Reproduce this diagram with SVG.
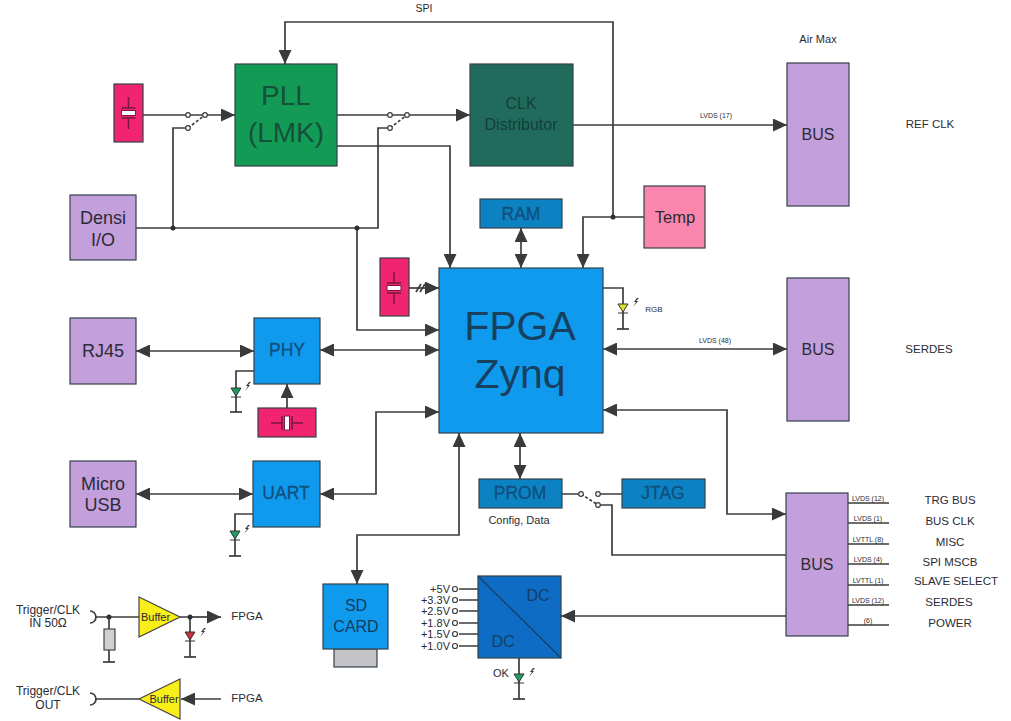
<svg xmlns="http://www.w3.org/2000/svg" width="1011" height="721" viewBox="0 0 1011 721">
<style>
text{font-family:"Liberation Sans",Arial,sans-serif;fill:#2b2b35;text-anchor:middle}
.box{stroke:#33414a;stroke-width:1.2}
.w{fill:none;stroke:#3c3c3c;stroke-width:1.7}
.a{marker-end:url(#ah)}
.d{marker-end:url(#ah);marker-start:url(#ah)}
.sw{fill:#fff;stroke:#3c3c3c;stroke-width:1.2}
.j{fill:#2f2f2f}
.bus{fill:#c39fdc}.pink{fill:#f0246f}.blue{fill:#0f9aee}.teal{fill:#0d82c2}
.bt{fill:#104f7e;font-size:17.5px;stroke:#104f7e;stroke-width:.3}
.s7{font-size:7px}.s10{font-size:11.5px}
.l{font-size:18px}
.led{stroke:#333;stroke-width:1}
.xt{fill:none;stroke:#7a1640;stroke-width:1.5}
.bolt{fill:#333}
</style>
<defs>
<marker id="ah" markerUnits="userSpaceOnUse" markerWidth="15" markerHeight="13" refX="14" refY="6.5" orient="auto-start-reverse"><path d="M0 0L14 6.5L0 13Z" fill="#3a3a3a"/></marker>
<g id="bolt"><path class="bolt" d="M3 -5L0 -1L2 -1L-1 4L4 -2L2 -2L5 -5Z"/></g>
<g id="gnd"><path class="w" d="M-6 0H6"/></g>
<g id="xtalV"><path class="xt" d="M0 -16V-5M-7 -5H7M0 16V5M-7 5H7"/><rect x="-7" y="-2.5" width="14" height="5" fill="#fff" stroke="#7a1640"/></g>
</defs>

<g id="connectors">
<path class="w a" d="M613 217V22H285V64"/>
<path class="w a" d="M644 217H583V268"/>
<path class="w a" d="M143 115H235"/>
<path class="w" d="M136 228H378V128H390M173 228V128H188"/>
<path class="w" stroke-dasharray="3 2" d="M188 128L205 115"/>
<path class="w a" d="M337 115H470"/>
<path class="w" stroke-dasharray="3 2" d="M390 128L407 115"/>
<path class="w a" d="M337 146H450V268"/>
<path class="w a" d="M357 228V330H439"/>
<path class="w a" d="M409 288H439"/>
<path class="w" d="M416 292L421 284M420 292L425 284"/>
<path class="w d" d="M320 350H439"/>
<path class="w d" d="M136 351H254"/>
<path class="w a" d="M287 408V384"/>
<path class="w d" d="M136 494H253"/>
<path class="w d" d="M320 494H376V412H439"/>
<path class="w d" d="M357 584V535H459V433"/>
<path class="w d" d="M521 228V268"/>
<path class="w d" d="M520 433V479"/>
<path class="w d" d="M603 349H787"/>
<path class="w d" d="M603 410H727V514H786"/>
<path class="w a" d="M573 125H787"/>
<path class="w a" d="M786 616H561"/>
<path class="w" d="M562 494H581M598 494H622M598 505H612V555H786"/>
<path class="w" stroke-dasharray="3 2" d="M581 494L598 505"/>
<path class="w" d="M848 503H889M848 523H889M848 544H889M848 564H889M848 585H889M848 605H889M848 625H889"/>
<path class="w" d="M459 589H478M459 600H478M459 611H478M459 623H478M459 634H478M459 646H478"/>
<path class="w" d="M603 288H623V329"/>
<path class="w" d="M254 371H236V412"/>
<path class="w" d="M253 514H235V556"/>
<path class="w" d="M519 658V699"/>
<path class="w" d="M95 617H139M109 617V629M109 650V662M180 617H190"/>
<path class="w a" d="M190 617H221"/>
<path class="w" d="M190 617V657"/>
<path class="w" d="M95 699H139"/>
<path class="w a" d="M221 699H181"/>
<circle class="sw" cx="188" cy="115" r="2.3"/><circle class="sw" cx="205" cy="115" r="2.3"/><circle class="sw" cx="188" cy="128" r="2.3"/>
<circle class="sw" cx="390" cy="115" r="2.3"/><circle class="sw" cx="407" cy="115" r="2.3"/><circle class="sw" cx="390" cy="128" r="2.3"/>
<circle class="sw" cx="581" cy="494" r="2.3"/><circle class="sw" cx="598" cy="494" r="2.3"/><circle class="sw" cx="598" cy="505" r="2.3"/>
<circle class="j" cx="613" cy="217" r="2.5"/><circle class="j" cx="173" cy="228" r="2.5"/><circle class="j" cx="357" cy="228" r="2.5"/>
<circle class="j" cx="109" cy="617" r="2.5"/><circle class="j" cx="190" cy="617" r="2.5"/>
<path class="w" d="M90 611A6 6 0 0 1 90 623M90 693A6 6 0 0 1 90 705"/>
</g>

<g id="pll"><rect class="box" x="235" y="64" width="102" height="102" fill="#139a55"/><text x="286" y="105" font-size="28" style="fill:#14503a">PLL</text><text x="286" y="142" font-size="28" style="fill:#14503a">(LMK)</text></g>
<g id="clk"><rect class="box" x="470" y="64" width="103" height="102" fill="#206b5b"/><text x="521" y="109" font-size="16" style="fill:#143f3a">CLK</text><text x="521" y="130" font-size="16" style="fill:#143f3a">Distributor</text></g>
<g id="xtal1"><rect class="box pink" x="114" y="84" width="29" height="58"/><use href="#xtalV" x="128.500" y="113"/></g>
<g id="xtal2"><rect class="box pink" x="380" y="258" width="29" height="58"/><use href="#xtalV" x="394" y="288"/></g>
<g id="xtal3"><rect class="box pink" x="258" y="408" width="58" height="29"/><use href="#xtalV" transform="translate(287 423) rotate(90)"/></g>
<g id="bus1"><rect class="box bus" x="787" y="63" width="62" height="143"/><text x="818" y="140" font-size="16">BUS</text></g>
<g id="bus2"><rect class="box bus" x="787" y="278" width="62" height="143"/><text x="818" y="355" font-size="16">BUS</text></g>
<g id="bus3"><rect class="box bus" x="786" y="493" width="62" height="143"/><text x="817" y="570" font-size="16">BUS</text></g>
<g id="densi"><rect class="box bus" x="70" y="195" width="66" height="65"/><text x="103" y="224" class="l">Densi</text><text x="103" y="246" class="l">I/O</text></g>
<g id="rj45"><rect class="box bus" x="70" y="318" width="66" height="66"/><text x="103" y="357" class="l">RJ45</text></g>
<g id="usb"><rect class="box bus" x="70" y="461" width="66" height="66"/><text x="103" y="490" class="l">Micro</text><text x="103" y="511" class="l">USB</text></g>
<g id="ram"><rect class="box teal" x="480" y="199" width="82" height="29"/><text class="bt" x="521" y="220">RAM</text></g>
<g id="temp"><rect class="box" x="644" y="186" width="61" height="62" fill="#fa86ad"/><text x="675" y="223" font-size="16.500">Temp</text></g>
<g id="fpga"><rect class="box blue" x="439" y="268" width="164" height="165"/><text x="520" y="340" font-size="41" style="fill:#173f5e">FPGA</text><text x="520" y="388" font-size="41" style="fill:#173f5e">Zynq</text></g>
<g id="phy"><rect class="box blue" x="254" y="318" width="66" height="66"/><text class="bt" x="287" y="356">PHY</text></g>
<g id="uart"><rect class="box blue" x="253" y="461" width="67" height="66"/><text class="bt" x="286" y="499">UART</text></g>
<g id="prom"><rect class="box teal" x="479" y="479" width="83" height="29"/><text class="bt" x="520" y="499">PROM</text></g>
<g id="jtag"><rect class="box teal" x="622" y="479" width="83" height="29"/><text class="bt" x="663" y="499">JTAG</text></g>
<g id="sd"><rect class="box" x="334" y="649" width="43" height="18" fill="#c4c4c8"/><rect class="box blue" x="323" y="584" width="65" height="65"/><text x="356" y="611" font-size="16" style="fill:#143a5e">SD</text><text x="356" y="632" font-size="16" style="fill:#143a5e">CARD</text></g>
<g id="dc"><rect class="box" x="478" y="576" width="83" height="82" fill="#0f6cc4"/><path d="M478 576L561 658" stroke="#173f5e" stroke-width="1.2"/><text x="538" y="601" font-size="16" style="fill:#143f6a">DC</text><text x="503" y="647" font-size="16" style="fill:#143f6a">DC</text></g>

<g id="led-rgb"><path class="led" d="M618 304H628L623 312Z" fill="#dfe02a"/><path class="led" d="M618 313H628"/><use href="#gnd" x="623" y="329"/><use href="#bolt" x="634" y="303"/></g>
<g id="led-phy"><path class="led" d="M231 388H241L236 396Z" fill="#1f9c63"/><path class="led" d="M231 397H241"/><use href="#gnd" x="236" y="412"/><use href="#bolt" x="246" y="387"/></g>
<g id="led-uart"><path class="led" d="M230 531H240L235 539Z" fill="#1f9c63"/><path class="led" d="M230 540H240"/><use href="#gnd" x="235" y="556"/><use href="#bolt" x="245" y="530"/></g>
<g id="led-dc"><path class="led" d="M514 674H524L519 682Z" fill="#1f9c63"/><path class="led" d="M514 683H524"/><use href="#gnd" x="519" y="699"/><use href="#bolt" x="530" y="673"/></g>
<g id="led-trig"><path class="led" d="M185 632H195L190 640Z" fill="#c8323a"/><path class="led" d="M185 641H195"/><use href="#gnd" x="190" y="657"/><use href="#bolt" x="201" y="633"/></g>

<g id="resistor"><rect x="104" y="629" width="11" height="21" fill="#cfcfd4" stroke="#444" stroke-width="1.2"/><use href="#gnd" x="109" y="662"/></g>
<g id="buffer-in"><path d="M139 597L180 617L139 637Z" fill="#f8ee1a" stroke="#444" stroke-width="1.200"/><text x="155.500" y="621" font-size="11">Buffer</text></g>
<g id="buffer-out"><path d="M180 679L139 699L180 719Z" fill="#f8ee1a" stroke="#444" stroke-width="1.200"/><text x="164" y="703" font-size="11">Buffer</text></g>

<g id="labels">
<text x="424" y="12" font-size="10.500">SPI</text>
<text x="818" y="43" font-size="11">Air Max</text>
<text x="930" y="128" class="s10">REF CLK</text>
<text x="929" y="353" class="s10">SERDES</text>
<text x="716" y="118" class="s7">LVDS (17)</text>
<text x="715" y="343" class="s7">LVDS (48)</text>
<text x="654" y="312" font-size="8">RGB</text>
<text x="519" y="524" font-size="11">Config, Data</text>
<text x="501" y="677" font-size="11">OK</text>
<text x="868" y="501" class="s7">LVDS (12)</text>
<text x="868" y="521" class="s7">LVDS (1)</text>
<text x="868" y="542" class="s7">LVTTL (8)</text>
<text x="868" y="562" class="s7">LVDS (4)</text>
<text x="868" y="583" class="s7">LVTTL (1)</text>
<text x="868" y="603" class="s7">LVDS (12)</text>
<text x="868" y="623" class="s7">(6)</text>
<text x="950" y="504" class="s10">TRG BUS</text>
<text x="950" y="525" class="s10">BUS CLK</text>
<text x="950" y="546" class="s10">MISC</text>
<text x="950" y="566" class="s10">SPI MSCB</text>
<text x="956" y="585" class="s10">SLAVE SELECT</text>
<text x="949" y="606" class="s10">SERDES</text>
<text x="950" y="627" class="s10">POWER</text>
<g style="font-size:11px">
<text x="450" y="593" style="text-anchor:end">+5V</text>
<text x="450" y="604" style="text-anchor:end">+3.3V</text>
<text x="450" y="615" style="text-anchor:end">+2.5V</text>
<text x="450" y="627" style="text-anchor:end">+1.8V</text>
<text x="450" y="638" style="text-anchor:end">+1.5V</text>
<text x="450" y="650" style="text-anchor:end">+1.0V</text>
</g>
<text x="48" y="614" font-size="12">Trigger/CLK</text>
<text x="48" y="627" font-size="12">IN   50Ω</text>
<text x="48" y="695" font-size="12">Trigger/CLK</text>
<text x="48" y="709" font-size="12">OUT</text>
<text x="247" y="620" class="s10">FPGA</text>
<text x="247" y="702" class="s10">FPGA</text>
</g>
<g id="terminals">
<circle class="sw" cx="455" cy="589" r="2.5"/><circle class="sw" cx="455" cy="600" r="2.5"/><circle class="sw" cx="455" cy="611" r="2.5"/><circle class="sw" cx="455" cy="623" r="2.5"/><circle class="sw" cx="455" cy="634" r="2.5"/><circle class="sw" cx="455" cy="646" r="2.5"/>
</g>
</svg>
